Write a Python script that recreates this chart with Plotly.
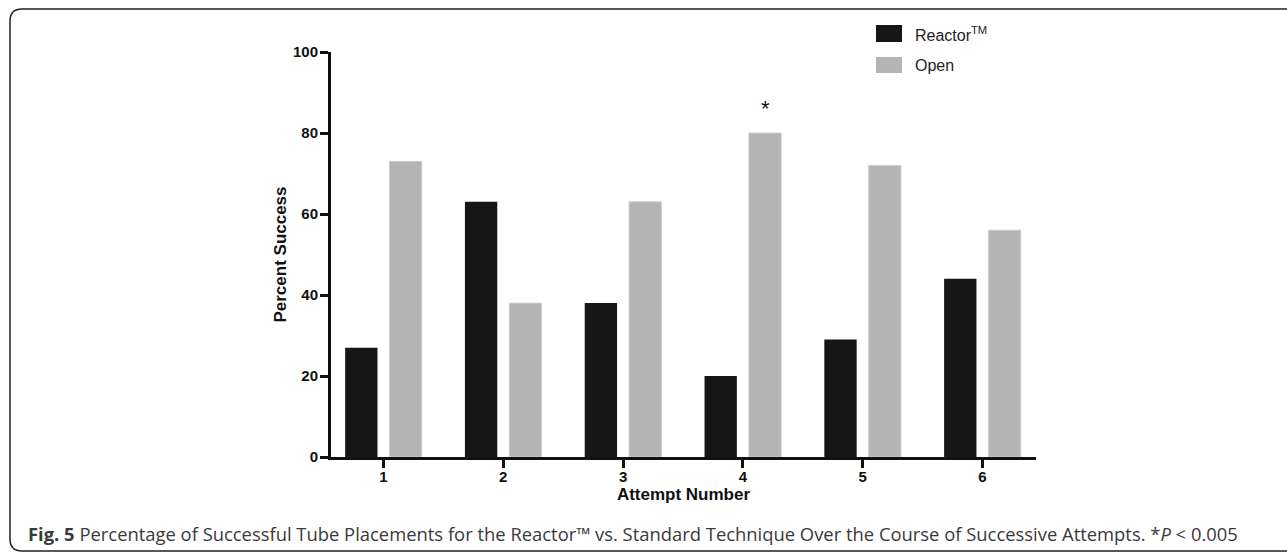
import plotly.graph_objects as go

attempts = [1, 2, 3, 4, 5, 6]
tick_labels = ["1", "2", "3", "4", "5", "6"]
reactor = [27, 63, 38, 20, 29, 44]
open_tech = [73, 38, 63, 80, 72, 56]
y_ticks = [0, 20, 40, 60, 80, 100]
series_names = ["Reactor<sup>TM</sup>", "Open"]
sig_attempt = 4
sig_label = "*"
caption = ("<b>Fig. 5</b> Percentage of Successful Tube Placements for the Reactor™ vs. "
           "Standard Technique Over the Course of Successive Attempts. *<i>P</i> < 0.005")

W, H = 1287, 552
L, R, T, B = 331, 251, 52, 95
PW, PH = W - L - R, H - T - B

def xp(px):
    return (px - L) / PW

def yp(py):
    return (H - B - py) / PH

BLACK = "#161616"
GRAY = "#b4b4b4"
AX = "#111111"
BAR_W = 0.27
OFF_A = -0.32
OFF_B = 0.05

fig = go.Figure()
fig.add_trace(go.Bar(x=attempts, y=reactor, name=series_names[0], width=BAR_W, offset=OFF_A,
                     marker=dict(color=BLACK, line=dict(width=0)), showlegend=False))
fig.add_trace(go.Bar(x=attempts, y=open_tech, name=series_names[1], width=BAR_W, offset=OFF_B,
                     marker=dict(color=GRAY, line=dict(color="#cfcfcf", width=1)), showlegend=False))

# significance marker above the Open bar of attempt 4
idx = attempts.index(sig_attempt)
fig.add_annotation(x=sig_attempt + OFF_B + BAR_W / 2, y=open_tech[idx], xref="x", yref="y",
                   text=sig_label, showarrow=False, yanchor="middle", yshift=25,
                   font=dict(family="Liberation Sans", size=22, color="#111"))

shapes = []
# legend swatches
shapes.append(dict(type="rect", xref="paper", yref="paper", x0=xp(876), x1=xp(902),
                   y0=yp(42), y1=yp(25), fillcolor=BLACK, line=dict(width=0)))
shapes.append(dict(type="rect", xref="paper", yref="paper", x0=xp(876), x1=xp(902),
                   y0=yp(73), y1=yp(57), fillcolor=GRAY, line=dict(width=0)))
for name, cy in zip(series_names, [33.5, 65]):
    fig.add_annotation(x=xp(913), y=yp(cy), xref="paper", yref="paper", text=name,
                       showarrow=False, xanchor="left", yanchor="middle",
                       font=dict(family="Liberation Sans", size=16, color="#222"))

# rounded frame (right side runs off the canvas)
x0, x1, y0, y1, r = 10, 1340, 9, 551, 12
def P(px, py):
    return f"{xp(px):.5f},{yp(py):.5f}"
path = (f"M {P(x0, y0 + r)} Q {P(x0, y0)} {P(x0 + r, y0)} L {P(x1 - r, y0)} "
        f"Q {P(x1, y0)} {P(x1, y0 + r)} L {P(x1, y1 - r)} Q {P(x1, y1)} {P(x1 - r, y1)} "
        f"L {P(x0 + r, y1)} Q {P(x0, y1)} {P(x0, y1 - r)} Z")
shapes.append(dict(type="path", xref="paper", yref="paper", path=path,
                   line=dict(color="#222", width=1.5)))

fig.add_annotation(x=xp(26), y=yp(533), xref="paper", yref="paper", text=caption,
                   showarrow=False, xanchor="left", yanchor="middle",
                   font=dict(family="Open Sans", size=18.4, color="#3a3a3a"))

tickfont = dict(family="Liberation Sans", size=15, color=AX, weight="bold")
titlefont = dict(family="Liberation Sans", size=17, color=AX, weight="bold")

fig.update_layout(
    width=W, height=H, autosize=False,
    margin=dict(l=L, r=R, t=T, b=B, pad=0),
    paper_bgcolor="white", plot_bgcolor="white",
    barmode="overlay",
    shapes=shapes,
    xaxis=dict(range=[0.562, 6.447], tickvals=attempts, ticktext=tick_labels,
               showline=True, linewidth=3, linecolor=AX, ticks="outside", ticklen=8,
               tickwidth=3, tickcolor=AX, showgrid=False, zeroline=False,
               ticklabelstandoff=-4,
               tickfont=tickfont, title=dict(text="Attempt Number", font=titlefont, standoff=4)),
    yaxis=dict(range=[0, 100], tickvals=y_ticks, showline=True, linewidth=3, linecolor=AX,
               ticks="outside", ticklen=8, tickwidth=3, tickcolor=AX, showgrid=False,
               zeroline=False, tickfont=tickfont, ticklabelstandoff=-1,
               title=dict(text="Percent Success", font=titlefont, standoff=3)),
)

fig.write_html("out.html", config={"displayModeBar": False},
               post_script="document.body.style.margin='0';document.body.style.overflow='hidden';")
